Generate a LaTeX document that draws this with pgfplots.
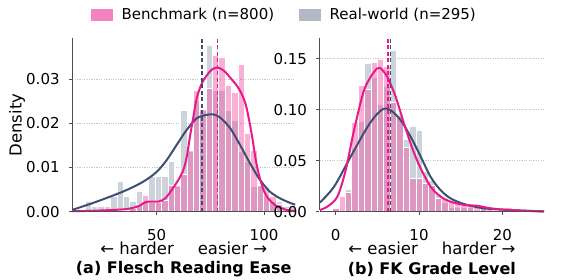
\documentclass[border=0pt]{standalone}
\usepackage{fontspec}
\setmainfont{DejaVu Sans}
\usepackage{pgfplots}
\usepackage{pgfplotstable}
\pgfplotsset{compat=1.18}
\definecolor{pinkline}{HTML}{E8198B}
\definecolor{grayline}{HTML}{3B5070}
\definecolor{pinkbar}{HTML}{EF51A1}
\definecolor{graybar}{HTML}{CDD3DA}
\definecolor{pinkleg}{HTML}{F384C0}
\definecolor{grayleg}{HTML}{B1B9C5}
\definecolor{spine}{HTML}{4D4D4D}

\pgfplotstableread{
x y
10.70 0
13.67 0
16.63 0.00229
19.60 0.00114
22.56 0.00114
25.53 0.00114
28.49 0.00343
31.46 0.00686
34.43 0.00343
37.39 0.00229
40.36 0.00457
43.32 0.00229
46.29 0.00800
49.25 0.00800
52.22 0.00800
55.19 0.01143
58.15 0.00572
61.12 0.02286
64.08 0.01372
67.05 0.02515
70.01 0.02286
72.98 0.03772
75.95 0.02743
78.91 0.02743
81.88 0.02286
84.84 0.02057
87.81 0.01372
90.77 0.01143
93.74 0.00572
96.71 0.00572
99.67 0.00343
102.64 0.00229
105.60 0.00229
108.57 0.00114
111.53 0.00114
114.50 0
}\fregray

\pgfplotstableread{
x y
10.70 0
13.67 0
16.63 0.00042
19.60 0.00042
22.56 0.00042
25.53 0.00042
28.49 0.00042
31.46 0.00042
34.43 0.00042
37.39 0.00084
40.36 0.00169
43.32 0.00379
46.29 0.00211
49.25 0.00211
52.22 0.00253
55.19 0.00590
58.15 0.00590
61.12 0.00843
64.08 0.01391
67.05 0.02740
70.01 0.02318
72.98 0.02782
75.95 0.03541
78.91 0.03498
81.88 0.02866
84.84 0.02698
87.81 0.03330
90.77 0.01770
93.74 0.01391
96.71 0.00590
99.67 0.00548
102.64 0.00337
105.60 0.00169
108.57 0.00084
111.53 0.00042
114.50 0
}\frepink

\pgfplotstableread{
x y
-1.920 0
-1.151 0
-0.382 0.00441
0.387 0
1.157 0.02204
1.926 0.06170
2.695 0.08814
3.464 0.14543
4.233 0.13221
5.002 0.10577
5.771 0.12340
6.541 0.15865
7.310 0.09695
8.079 0.07051
8.848 0.08373
9.617 0.07933
10.386 0.03966
11.155 0.03085
11.925 0.01763
12.694 0.00881
13.463 0.00441
14.232 0.00441
15.001 0.00441
15.770 0.00441
16.539 0
17.309 0.00441
18.078 0
18.847 0.00441
19.616 0
20.385 0.00441
21.154 0
21.923 0
22.693 0
23.462 0
24.231 0
25.000 0
}\fkgray

\pgfplotstableread{
x y
-1.920 0.00163
-1.151 0.00163
-0.382 0.00325
0.387 0.01463
1.157 0.01950
1.926 0.08775
2.695 0.12350
3.464 0.12025
4.233 0.14625
5.002 0.14950
5.771 0.14300
6.541 0.10725
7.310 0.09425
8.079 0.06338
8.848 0.03250
9.617 0.03250
10.386 0.02763
11.155 0.02600
11.925 0.01300
12.694 0.01300
13.463 0.00975
14.232 0.00813
15.001 0.00650
15.770 0.00650
16.539 0.00650
17.309 0.00488
18.078 0.00488
18.847 0.00163
19.616 0.00163
20.385 0.00163
21.154 0
21.923 0.00163
22.693 0
23.462 0
24.231 0.00163
25.000 0
}\fkpink

\pgfplotsset{
  panel/.style={
    scale only axis, height=173.4pt,
    axis x line*=bottom, axis y line*=left,
    axis line style={spine, line width=0.8pt, -},
    tick style={spine, line width=0.8pt},
    major tick length=3.5pt, tick align=outside,
    ymin=0, ymajorgrids,
    grid style={gray!45, dash pattern=on 1.2pt off 1.2pt, line width=0.6pt},
    tick label style={font=\fontsize{15}{18}\selectfont, text=black},
    /pgf/number format/assume math mode=true,
    yticklabel style={/pgf/number format/fixed, /pgf/number format/precision=2,
      /pgf/number format/fixed zerofill, anchor=east, inner sep=0pt, xshift=-9pt},
    xticklabel style={anchor=north, inner sep=0pt, yshift=-13.5pt},
    scaled y ticks=false, scaled x ticks=false,
    clip=false,
  },
  hist/.style={ybar interval, draw=white, line width=0.6pt, forget plot},
  kde/.style={line width=2pt, smooth, tension=0.5, forget plot},
  mline/.style={line width=1.5pt, dash pattern=on 4pt off 2.5pt, forget plot},
}

\begin{document}
\begin{tikzpicture}
\path[use as bounding box] (-72.3pt,-68.3pt) rectangle (488.7pt,211.7pt);

\begin{axis}[panel, at={(0pt,0pt)}, anchor=origin, width=222.9pt,
  xmin=10.7, xmax=114.5, ymax=0.0392,
  xtick={50,100}, ytick={0,0.01,0.02,0.03},
  ylabel={Density},
  ylabel style={at={(axis description cs:-0.248,0.5)}, anchor=center,
    font=\fontsize{16.5}{20}\selectfont},
  legend columns=2,
  legend cell align=left,
  legend style={at={(0.952,1.137)}, anchor=center, draw=none, fill=none,
    font=\fontsize{15}{18}\selectfont,
    /tikz/every even column/.append style={column sep=23pt}},
]
\addlegendimage{legend image code/.code={\fill[pinkleg] (-5pt,-5.5pt) rectangle (16pt,5.5pt); \path (23pt,0pt);}}
\addlegendentry{Benchmark (n=800)}
\addlegendimage{legend image code/.code={\fill[grayleg] (-5pt,-5.5pt) rectangle (16pt,5.5pt); \path (23pt,0pt);}}
\addlegendentry{Real-world (n=295)}

\addplot[hist, fill=graybar] table {\fregray};
\addplot[hist, fill=pinkbar, fill opacity=0.45] table {\frepink};

\addplot[kde, grayline] coordinates {
(10.7,0.0004) (15,0.0011) (20.5,0.0020) (28.3,0.0034) (36,0.0049) (43.8,0.0068)
(50,0.0090) (54.7,0.0117) (59.3,0.0151) (64,0.0185) (68.6,0.0211) (73.3,0.0219)
(76.4,0.0220) (79.5,0.0213) (84.2,0.0189) (88.8,0.0151) (93.5,0.0109) (98.1,0.0072)
(102.8,0.0045) (107.5,0.0030) (112.1,0.0020) (114.5,0.0016)};
\addplot[kde, pinkline] coordinates {
(10.7,0.0001) (20,0.0002) (30,0.0004) (36,0.0006) (40,0.0010) (42.5,0.0015)
(44.5,0.0021) (47,0.0023) (51,0.0023) (53.9,0.0030) (57,0.0049) (60.1,0.0072)
(62.4,0.0094) (64,0.0124) (65.5,0.0170) (67.1,0.0215) (68.6,0.0256) (71,0.0290)
(73.3,0.0308) (75.6,0.0321) (78.4,0.0326) (81.5,0.0318) (84.2,0.0303) (87.3,0.0285)
(89.6,0.0266) (91.5,0.0242) (93,0.0208) (94.6,0.0165) (96.1,0.0118) (97.7,0.0082)
(100,0.0046) (102.3,0.0028) (105.4,0.0014) (110,0.0005) (114.5,0.0001)};

\addplot[mline, grayline] coordinates {(71.0,0) (71.0,0.0392)};
\addplot[mline, pinkline] coordinates {(78.4,0) (78.4,0.0392)};

\draw[spine, line width=0.8pt] (rel axis cs:0,0) -- (rel axis cs:1,0);
\node[font=\fontsize{16.5}{20}\selectfont, yshift=-37pt] at (rel axis cs:0.5,0)
  {← harder\hspace{24pt}easier →};
\node[font=\fontsize{16}{19}\selectfont\bfseries, yshift=-57.5pt] at (rel axis cs:0.5,0)
  {(a) Flesch Reading Ease};
\end{axis}

\begin{axis}[panel, at={(263.4pt,0pt)}, anchor=origin, width=224.3pt,
  xmin=-1.92, xmax=25, ymax=0.17,
  xtick={0,10,20}, ytick={0,0.05,0.10,0.15},
]
\addplot[hist, fill=graybar] table {\fkgray};
\addplot[hist, fill=pinkbar, fill opacity=0.45] table {\fkpink};

\addplot[kde, grayline] coordinates {
(-1.92,0.0088) (-0.2,0.0245) (1.8,0.0540) (3.8,0.0830) (5,0.0960) (5.8,0.1010)
(6.6,0.0995) (7.8,0.0897) (9,0.0734) (10.2,0.0540) (11.4,0.0340) (12.6,0.0210)
(13.8,0.0130) (15.4,0.0075) (17.8,0.0033) (21,0.0016) (25,0.0003)};
\addplot[kde, pinkline] coordinates {
(-1.92,0.0016) (-1,0.0050) (0.2,0.0147) (1.2,0.0408) (2.2,0.0799) (3.4,0.1190)
(4.6,0.1370) (5.3,0.1410) (6.2,0.1320) (7.2,0.1125) (8.2,0.0864) (9.2,0.0620)
(10.2,0.0424) (11.4,0.0245) (12.6,0.0147) (13.8,0.0098) (15.4,0.0066) (17,0.0058)
(18.6,0.0033) (21,0.0016) (25,0.0002)};

\addplot[mline, pinkline] coordinates {(6.3,0) (6.3,0.17)};
\addplot[mline, grayline] coordinates {(6.6,0) (6.6,0.17)};

\draw[spine, line width=0.8pt] (rel axis cs:0,0) -- (rel axis cs:1,0);
\node[font=\fontsize{16.5}{20}\selectfont, yshift=-37pt] at (rel axis cs:0.5,0)
  {← easier\hspace{24pt}harder →};
\node[font=\fontsize{16}{19}\selectfont\bfseries, yshift=-57.5pt] at (rel axis cs:0.5,0)
  {(b) FK Grade Level};
\end{axis}
\end{tikzpicture}
\end{document}
